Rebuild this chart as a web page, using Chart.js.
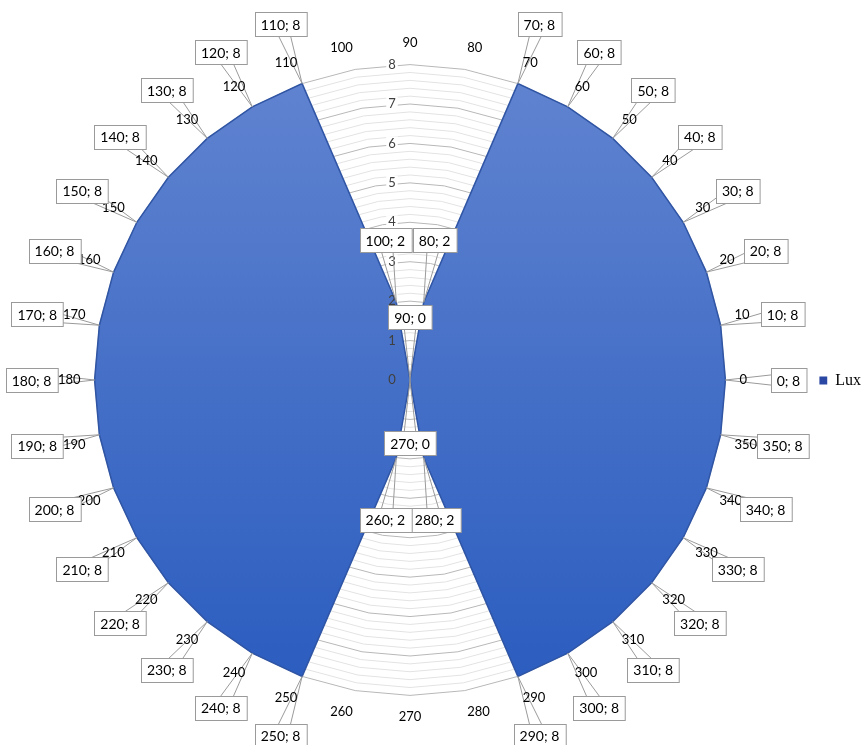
<!DOCTYPE html>
<html>
<head>
<meta charset="utf-8">
<script src="https://cdn.jsdelivr.net/npm/chart.js@4.4.0/dist/chart.umd.min.js"></script>
<style>
    html, body { margin: 0; padding: 0; background: #fff; }
    #wrap { width: 861px; height: 745px; }
</style>
</head>
<body>
<div id="wrap"><canvas id="grafico"></canvas></div>
<script>
// categorias (graus) e valores
const categorias = [0, 10, 20, 30, 40, 50, 60, 70, 80, 90, 100, 110, 120, 130, 140, 150, 160, 170,
    180, 190, 200, 210, 220, 230, 240, 250, 260, 270, 280, 290, 300, 310, 320, 330, 340, 350]
const valoresLux = [8, 8, 8, 8, 8, 8, 8, 8, 2, 0, 2, 8, 8, 8, 8, 8, 8, 8,
    8, 8, 8, 8, 8, 8, 8, 8, 2, 0, 2, 8, 8, 8, 8, 8, 8, 8]
const ticksEixo = [0, 1, 2, 3, 4, 5, 6, 7, 8]
const nomeSerie = 'Lux'

// chart.js anda no sentido horario a partir do topo, entao comeca no 90 e desce
let labels = []
let dados = []
for (let k = 0; k < categorias.length; k++) {
    let i = (9 - k + 36) % 36
    labels.push(String(categorias[i]))
    dados.push(valoresLux[i])
}

const fonte = 'Lato, "Liberation Sans", sans-serif'

function ehInteiro(v) {
    return Math.abs(v - Math.round(v)) < 1e-6
}

function preenchimento(ctx) {
    const chart = ctx.chart
    const s = chart.scales && chart.scales.r
    if (!s || !s.drawingArea) return '#4472c4'
    const g = chart.ctx.createLinearGradient(0, s.yCenter - s.drawingArea, 0, s.yCenter + s.drawingArea)
    g.addColorStop(0, '#6184d0')
    g.addColorStop(1, '#2a5cbf')
    return g
}

// numeros do eixo (ficam um pouco a esquerda do eixo do 90)
const ticksPlugin = {
    id: 'ticksPlugin',
    beforeDatasetsDraw(chart) {
        const s = chart.scales.r
        const c = chart.ctx
        c.save()
        c.font = '13px ' + fonte
        c.fillStyle = '#fff'
        ticksEixo.map((v) => {
            let y = s.yCenter - s.getDistanceFromCenterForValue(v)
            let w = c.measureText(String(v)).width
            c.fillRect(s.xCenter - 18 - w / 2 - 2, y - 7, w + 4, 14)
        })
        c.restore()
    },
    afterDatasetsDraw(chart) {
        const s = chart.scales.r
        const c = chart.ctx
        c.save()
        c.font = '13px ' + fonte
        c.fillStyle = '#404040'
        c.textAlign = 'center'
        c.textBaseline = 'middle'
        ticksEixo.map((v) => {
            let y = s.yCenter - s.getDistanceFromCenterForValue(v)
            c.fillText(String(v), s.xCenter - 18, y)
        })
        c.restore()
    }
}

// caixinhas "categoria; valor" com a setinha ate o ponto
const rotulosPlugin = {
    id: 'rotulosPlugin',
    afterDatasetsDraw(chart) {
        const s = chart.scales.r
        const c = chart.ctx
        c.save()
        c.lineWidth = 1
        c.strokeStyle = '#9a9a9a'
        let caixas = []
        // primeiro as setas
        labels.map((lab, i) => {
            let dist = s.getDistanceFromCenterForValue(dados[i])
            let ponto = s.getPointPosition(i, dist)
            let caixa = s.getPointPosition(i, dist + 63)
            let dx = ponto.x - caixa.x
            let dy = ponto.y - caixa.y
            let len = Math.sqrt(dx * dx + dy * dy) || 1
            let px = -dy / len * 7
            let py = dx / len * 7
            c.beginPath()
            c.moveTo(caixa.x + px, caixa.y + py)
            c.lineTo(ponto.x, ponto.y)
            c.lineTo(caixa.x - px, caixa.y - py)
            c.stroke()
            caixas.push({ x: caixa.x, y: caixa.y, texto: lab + '; ' + dados[i] })
        })
        // nomes das categorias por cima das setas
        c.font = '13px ' + fonte
        c.fillStyle = '#000'
        c.textAlign = 'center'
        c.textBaseline = 'middle'
        labels.map((lab, i) => {
            let p = s.getPointLabelPosition(i)
            c.fillText(lab, (p.left + p.right) / 2, (p.top + p.bottom) / 2)
        })
        // caixas
        c.font = '14px ' + fonte
        caixas.map((b) => {
            let w = c.measureText(b.texto).width + 12
            let h = 24
            let x0 = Math.round(b.x - w / 2) + 0.5
            let y0 = Math.round(b.y - h / 2) + 0.5
            c.fillStyle = '#fff'
            c.fillRect(x0, y0, w, h)
            c.strokeRect(x0, y0, w, h)
            c.fillStyle = '#000'
            c.fillText(b.texto, b.x, b.y + 1)
        })
        c.restore()
    }
}

new Chart(document.getElementById('grafico'), {
    type: 'radar',
    data: {
        labels: labels,
        datasets: [{
            label: nomeSerie,
            data: dados,
            backgroundColor: preenchimento,
            borderColor: '#2f55a4',
            borderWidth: 1.5,
            pointRadius: 0,
            pointHoverRadius: 0,
            fill: true
        }]
    },
    options: {
        responsive: true,
        maintainAspectRatio: false,
        animation: false,
        layout: {
            padding: { top: 35, bottom: 19, left: 1, right: -10 }
        },
        plugins: {
            tooltip: { enabled: false },
            legend: {
                position: 'right',
                labels: {
                    boxWidth: 8,
                    boxHeight: 8,
                    padding: 0,
                    color: '#000',
                    font: { family: '"Liberation Serif", "Times New Roman", serif', size: 16 },
                    generateLabels: () => [{
                        text: nomeSerie,
                        fillStyle: '#2a47a3',
                        strokeStyle: '#2a47a3',
                        lineWidth: 0,
                        datasetIndex: 0
                    }]
                }
            }
        },
        scales: {
            r: {
                min: 0,
                max: 8,
                startAngle: 0,
                ticks: {
                    stepSize: 0.2,
                    display: false
                },
                grid: {
                    circular: false,
                    lineWidth: 1,
                    color: (ctx) => ehInteiro(ctx.tick.value) ? '#b8b8b8' : '#e3e3e3'
                },
                angleLines: { display: false },
                pointLabels: {
                    padding: 14,
                    color: 'rgba(0,0,0,0)',
                    font: { family: fonte, size: 13 }
                }
            }
        }
    },
    plugins: [ticksPlugin, rotulosPlugin]
});
</script>
</body>
</html>
